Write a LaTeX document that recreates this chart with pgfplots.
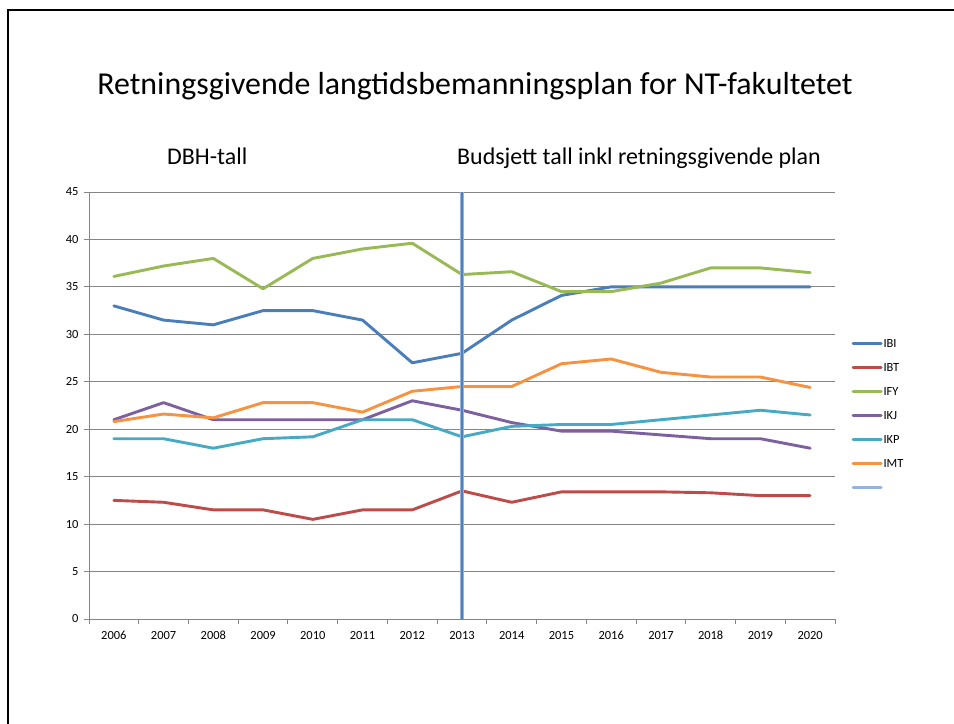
\documentclass[border=0pt]{standalone}
\usepackage{pgfplots}
\usepackage{pgfplotstable}
\pgfplotsset{compat=1.18}
\usepackage{fontspec}
\setmainfont{Carlito}
\definecolor{cIBI}{HTML}{4A7EBB}
\definecolor{cIBT}{HTML}{BE4B48}
\definecolor{cIFY}{HTML}{98B954}
\definecolor{cIKJ}{HTML}{7D60A0}
\definecolor{cIKP}{HTML}{46AAC5}
\definecolor{cIMT}{HTML}{F69240}
\definecolor{cV}{HTML}{4F81BD}
\definecolor{cVl}{HTML}{95B3DD}
\definecolor{gridc}{HTML}{868686}
\pgfplotstableread{
x  IBI  IBT  IFY  IKJ  IKP  IMT
0  33   12.5 36.1 21   19   20.8
1  31.5 12.3 37.2 22.8 19   21.6
2  31   11.5 38   21   18   21.2
3  32.5 11.5 34.8 21   19   22.8
4  32.5 10.5 38   21   19.2 22.8
5  31.5 11.5 39   21   21   21.8
6  27   11.5 39.6 23   21   24
7  28   13.5 36.3 22   19.2 24.5
8  31.5 12.3 36.6 20.7 20.3 24.5
9  34.1 13.4 34.5 19.8 20.5 26.9
10 35   13.4 34.5 19.8 20.5 27.4
11 35   13.4 35.4 19.4 21   26
12 35   13.3 37   19   21.5 25.5
13 35   13   37   19   22   25.5
14 35   13   36.5 18   21.5 24.4
}\data
\begin{document}
\begin{tikzpicture}
\clip (0bp,0bp) rectangle (954bp,724bp);
\fill[white] (0bp,0bp) rectangle (954bp,724bp);
\draw[line width=2bp, black] (8bp,0bp) -- (8bp,714bp) -- (954bp,714bp);
\node[anchor=base, font=\fontsize{32}{36}\selectfont, inner sep=0pt] at (475bp,629bp) {Retningsgivende langtidsbemanningsplan for NT-fakultetet};
\node[anchor=base west, font=\fontsize{24}{28}\selectfont, inner sep=0pt] at (167bp,559bp) {DBH-tall};
\node[anchor=base west, font=\fontsize{24}{28}\selectfont, inner sep=0pt] at (457bp,559bp) {Budsjett tall inkl retningsgivende plan};
\begin{axis}[
  at={(89bp,105bp)}, anchor=south west,
  width=746bp, height=427bp, scale only axis,
  xmin=-0.5, xmax=14.5, ymin=0, ymax=45,
  xtick={0,...,14},
  xticklabels={2006,2007,2008,2009,2010,2011,2012,2013,2014,2015,2016,2017,2018,2019,2020},
  minor xtick={-0.5,0.5,...,14.5},
  ytick={0,5,...,45},
  major x tick style={draw=none},
  minor x tick style={gridc, line width=0.9bp},
  y tick style={gridc, line width=0.9bp},
  tick align=outside,
  major tick length=5bp, minor tick length=5bp,
  axis x line*=bottom, axis y line*=left,
  axis line style={gridc, line width=0.9bp, -},
  ymajorgrids, major grid style={gridc, line width=0.9bp},
  tick label style={font=\fontsize{12.5}{14}\selectfont},
  xticklabel style={text height=8bp, text depth=0bp, yshift=-4bp},
  /pgf/number format/assume math mode=true,
  yticklabel style={xshift=-2bp},
  legend style={at={(1.022,0.66)}, anchor=north west, draw=none, fill=none,
     inner sep=0pt, row sep=11bp, font=\fontsize{12.5}{14}\selectfont,
     nodes={inner sep=1bp, text height=9bp, text depth=2bp}},
  legend cell align=left,
  legend image code/.code={\draw[#1] (0bp,0bp) -- (28bp,0bp);},
  every axis plot/.append style={line width=2.9bp, line join=round, line cap=round, no markers},
]
\addplot[cIBI] table[x=x, y=IBI] {\data}; \addlegendentry{IBI}
\addplot[cIBT] table[x=x, y=IBT] {\data}; \addlegendentry{IBT}
\addplot[cIFY] table[x=x, y=IFY] {\data}; \addlegendentry{IFY}
\addplot[cIKJ] table[x=x, y=IKJ] {\data}; \addlegendentry{IKJ}
\addplot[cIKP] table[x=x, y=IKP] {\data}; \addlegendentry{IKP}
\addplot[cIMT] table[x=x, y=IMT] {\data}; \addlegendentry{IMT}
\addplot[cVl, line width=4.2bp, line cap=butt, forget plot] coordinates {(7,0) (7,45)};
\addplot[cV, line width=2.5bp, line cap=butt, forget plot] coordinates {(7,0) (7,45)};
\addlegendimage{cVl, line width=2.9bp}
\addlegendentry{}
\end{axis}
\end{tikzpicture}
\end{document}
